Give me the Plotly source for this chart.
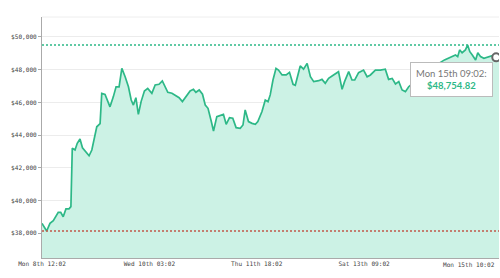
import pandas as pd
import plotly.graph_objects as go

start_time = "2021-03-08 12:02"
hours = [0, 1.7, 2.9, 4.1, 5.9, 6.8, 7.7, 8.7, 9.8, 10.5, 11.0, 12.0, 12.8, 13.8, 14.7, 15.9, 17.1, 18.1,
         19.3, 19.9, 21.1, 21.7, 22.9, 24.7, 25.9, 26.9, 28.0, 29.0, 30.2, 31.4, 32.4, 33.2, 34.1, 35.0,
         36.0, 37.2, 38.4, 39.9, 41.1, 42.5, 43.7, 45.0, 45.7, 47.2, 48.4, 49.8, 51.0, 52.0, 53.8, 55.0,
         55.9, 57.1, 58.3, 59.3, 60.3, 61.5, 62.3, 63.5, 64.7, 65.9, 66.9, 68.1, 69.3, 70.5, 72.0, 73.0,
         73.8, 75.0, 76.3, 77.5, 78.4, 79.9, 81.1, 82.1, 82.9, 83.9, 85.0, 85.9, 87.2, 88.7, 89.9, 91.2,
         92.0, 92.9, 93.8, 95.0, 96.3, 97.5, 98.7, 100.5, 101.7, 102.9, 104.1, 105.9, 107.7, 109.0, 109.9,
         111.4, 112.6, 113.6, 115.0, 116.8, 118.1, 119.3, 121.1, 122.9, 124.7, 125.9, 127.2, 128.4, 129.6,
         130.8, 132.0, 133.2, 134.4, 135.6, 137.5, 140.4, 143.3, 146.2, 147.7, 149.0, 150.2, 151.0, 151.7,
         152.6, 153.8, 154.6, 155.4, 156.3, 157.5, 158.3, 159.3, 160.5, 161.7, 162.9, 164.1, 165.0, 166.0]
prices = [38610, 38140, 38610, 38770, 39280, 39280, 39010, 39490, 39490, 39630, 43200, 43090, 43500, 43760,
          43230, 42990, 42740, 43090, 44000, 44510, 44710, 46550, 46490, 45730, 46340, 46950, 46950, 48080,
          47570, 46960, 46150, 45840, 46290, 45270, 46050, 46700, 46860, 46560, 47070, 47110, 47310, 46860,
          46620, 46560, 46420, 46290, 46050, 46290, 46700, 46800, 46620, 46760, 46500, 45840, 45640, 44830,
          44250, 45130, 45190, 45270, 44660, 45070, 45030, 44460, 44420, 44620, 45540, 44830, 44720, 44660,
          44830, 45440, 46150, 46050, 46460, 47370, 48080, 47980, 47680, 47680, 47840, 47110, 47050, 47570,
          48230, 48030, 48390, 47570, 47270, 47330, 47410, 47170, 47470, 47680, 47880, 46800, 47270, 47880,
          47370, 47370, 47820, 47980, 47570, 47680, 47980, 47980, 48030, 47410, 47470, 47130, 47270, 46760,
          46660, 46960, 47130, 47210, 47400, 47800, 48300, 48600, 48700, 48800, 48900, 48800, 49210, 49040,
          49210, 49510, 49100, 48900, 48590, 49040, 48800, 48700, 48760, 48840, 48880, 48754.82, 48850]

tick_hours = [0, 39, 78, 117]
tick_labels = ["Mon 8th 12:02", "Wed 10th 03:02", "Thu 11th 18:02", "Sat 13th 09:02"]
last_label = "Mon 15th 10:02"
y_ticks = [38000, 40000, 42000, 44000, 46000, 48000, 50000]
hover_index = 137
hover_title = "Mon 15th 09:02:"

base = pd.Timestamp(start_time)
times = [base + pd.Timedelta(hours=h) for h in hours]
tick_times = [base + pd.Timedelta(hours=h) for h in tick_hours]

LINE = "#2db887"
FILL = "#ccf2e5"
MONO = "DejaVu Sans Mono"
TICKFONT = dict(family=MONO, size=6.1, color="#444444")

fig = go.Figure()
fig.add_trace(go.Scatter(x=times, y=prices, mode="lines", line=dict(color=LINE, width=1.7),
                         fill="tozeroy", fillcolor=FILL, hoverinfo="skip"))
hi, lo = max(prices), min(prices)
fig.add_trace(go.Scatter(x=[times[0], times[-1]], y=[hi, hi], mode="lines",
                         line=dict(color=LINE, width=1.5, dash="2px,2px"), hoverinfo="skip"))
fig.add_trace(go.Scatter(x=[times[0], times[-1]], y=[lo, lo], mode="lines",
                         line=dict(color="#c0584a", width=1.5, dash="2px,2px"), hoverinfo="skip"))
fig.add_trace(go.Scatter(x=[times[hover_index]], y=[prices[hover_index]], mode="markers",
                         marker=dict(size=8, color="white", line=dict(color="#666666", width=2)),
                         hoverinfo="skip"))

fig.add_annotation(x=times[hover_index], y=prices[hover_index], xref="x", yref="y",
                   xanchor="right", yanchor="top", xshift=-3, yshift=-5, showarrow=False, align="center",
                   text=f"{hover_title}<br><b><span style='color:{LINE}'>${prices[hover_index]:,.2f}</span></b>",
                   font=dict(family="Lato", size=9.5, color="#777777"),
                   bgcolor="white", bordercolor="#bbbbbb", borderwidth=1, borderpad=5)
fig.add_annotation(x=times[-1], y=0, xref="x", yref="paper", xanchor="right", yanchor="top",
                   yshift=-1, xshift=-2, showarrow=False, text=last_label, font=TICKFONT)

fig.update_layout(
    width=500, height=278, margin=dict(l=42, r=1, t=17, b=20),
    paper_bgcolor="white", plot_bgcolor="white", showlegend=False,
    xaxis=dict(range=[times[0], times[-1]], tickvals=tick_times, ticktext=tick_labels,
               showgrid=False, zeroline=False, showline=True, linecolor="#aaaaaa", linewidth=1,
               ticks="", tickfont=TICKFONT),
    yaxis=dict(range=[36490, 51222], tickvals=y_ticks, ticktext=[f"${v:,}" for v in y_ticks],
               showgrid=True, gridcolor="#ececec", gridwidth=1, zeroline=False, showline=True,
               linecolor="#aaaaaa", linewidth=1, ticks="outside", ticklen=3, tickcolor="#aaaaaa",
               tickfont=TICKFONT),
    shapes=[dict(type="line", xref="paper", yref="paper", x0=0, x1=1, y0=1, y1=1,
                 line=dict(color="#eeeeee", width=1))],
)
fig.write_html("out.html")
